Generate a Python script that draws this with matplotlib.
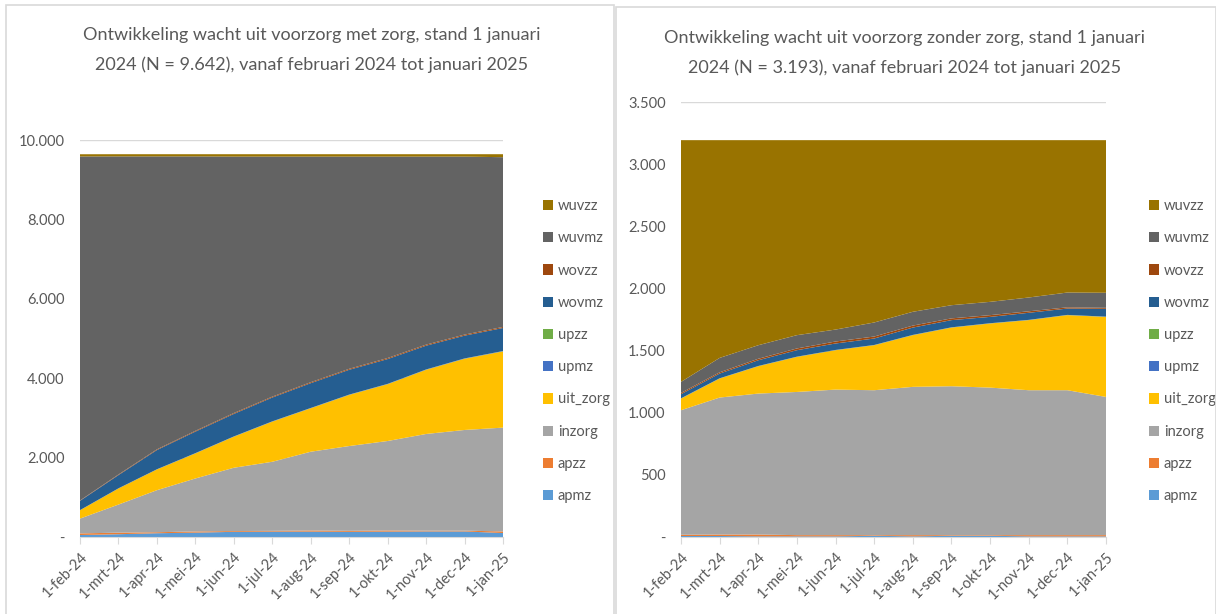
import matplotlib
matplotlib.use("Agg")
import matplotlib.pyplot as plt
from matplotlib.ticker import FuncFormatter
from matplotlib.patches import Rectangle

plt.rcParams['font.family'] = ['Lato', 'DejaVu Sans']

months = ['1-feb-24', '1-mrt-24', '1-apr-24', '1-mei-24', '1-jun-24', '1-jul-24',
          '1-aug-24', '1-sep-24', '1-okt-24', '1-nov-24', '1-dec-24', '1-jan-25']
series_names = ['apmz', 'apzz', 'inzorg', 'uit_zorg', 'upmz', 'upzz',
                'wovmz', 'wovzz', 'wuvmz', 'wuvzz']
colors = ['#5B9BD5', '#ED7D31', '#A5A5A5', '#FFC000', '#4472C4', '#70AD47',
          '#255E91', '#9E480E', '#636363', '#997300']

# wacht uit voorzorg met zorg (N = 9.642)
met_apmz = [50, 70, 95, 110, 130, 135, 135, 130, 135, 140, 140, 100]
met_apzz = [40, 40, 25, 30, 20, 20, 30, 25, 30, 20, 20, 40]
met_inzorg = [373, 707, 1059, 1334, 1594, 1740, 1983, 2136, 2253, 2435, 2536, 2615]
met_uit_zorg = [211, 405, 523, 632, 783, 1011, 1095, 1289, 1432, 1617, 1794, 1921]
met_upmz = [2, 3, 3, 4, 4, 5, 5, 5, 5, 6, 6, 6]
met_upzz = [1, 1, 1, 2, 2, 2, 2, 2, 2, 2, 2, 2]
met_wovmz = [233, 333, 484, 542, 567, 600, 625, 625, 625, 599, 574, 581]
met_wovzz = [10, 15, 18, 20, 22, 22, 24, 24, 26, 26, 26, 26]
met_wuvmz = [8666, 8013, 7379, 6913, 6460, 6047, 5683, 5346, 5074, 4737, 4484, 4276]
met_wuvzz = [55, 55, 55, 55, 60, 60, 60, 60, 60, 60, 60, 75]

# wacht uit voorzorg zonder zorg (N = 3.193)
zonder_apmz = [8, 8, 5, 5, 5, 10, 5, 10, 10, 5, 5, 5]
zonder_apzz = [10, 12, 15, 10, 10, 5, 10, 5, 5, 10, 10, 10]
zonder_inzorg = [1002, 1102, 1134, 1152, 1171, 1166, 1193, 1198, 1187, 1166, 1166, 1112]
zonder_uit_zorg = [94, 153, 220, 282, 317, 362, 416, 472, 516, 564, 604, 644]
zonder_upmz = [1, 1, 1, 1, 1, 1, 1, 1, 1, 1, 1, 1]
zonder_upzz = [1, 1, 1, 1, 1, 1, 1, 1, 1, 1, 1, 1]
zonder_wovmz = [33, 38, 46, 52, 52, 52, 59, 58, 51, 57, 51, 63]
zonder_wovzz = [10, 10, 12, 14, 16, 16, 16, 14, 14, 12, 10, 8]
zonder_wuvmz = [89, 116, 109, 107, 96, 113, 111, 106, 107, 111, 119, 121]
zonder_wuvzz = [1945, 1752, 1650, 1569, 1524, 1467, 1381, 1328, 1301, 1266, 1226, 1228]

met = [met_apmz, met_apzz, met_inzorg, met_uit_zorg, met_upmz, met_upzz,
       met_wovmz, met_wovzz, met_wuvmz, met_wuvzz]
zonder = [zonder_apmz, zonder_apzz, zonder_inzorg, zonder_uit_zorg, zonder_upmz,
          zonder_upzz, zonder_wovmz, zonder_wovzz, zonder_wuvmz, zonder_wuvzz]

text_color = '#595959'
grid_color = '#D9D9D9'


def fmt(v, pos):
    if v == 0:
        return '-'
    return f'{int(v):,}'.replace(',', '.')


fig = plt.figure(figsize=(12.16, 6.14), dpi=100)

# panel borders
fig.patches.append(Rectangle((6 / 1216, -0.01), 608 / 1216, 1 - 5 / 614 + 0.01,
                             transform=fig.transFigure, fill=False,
                             edgecolor=grid_color, linewidth=1.2))
fig.patches.append(Rectangle((616 / 1216, -0.01), 600 / 1216, 1 - 7 / 614 + 0.01,
                             transform=fig.transFigure, fill=False,
                             edgecolor=grid_color, linewidth=1.2))


def draw(rect, data, ymax, ystep, title, title_x, title_y, leg_x):
    ax = fig.add_axes(rect)
    x = list(range(len(months)))
    ax.stackplot(x, data, colors=colors, labels=series_names, linewidth=0)
    ax.set_xlim(0, len(months) - 1)
    ax.set_ylim(0, ymax)
    ax.set_yticks(list(range(0, ymax + 1, ystep)))
    ax.yaxis.set_major_formatter(FuncFormatter(fmt))
    ax.set_xticks(x)
    ax.set_xticklabels(months, rotation=45, ha='right', va='top',
                       rotation_mode='anchor')
    ax.grid(axis='y', color=grid_color, linewidth=1)
    ax.set_axisbelow(True)
    for s in ['top', 'right', 'left']:
        ax.spines[s].set_visible(False)
    ax.spines['bottom'].set_color(grid_color)
    ax.tick_params(axis='y', length=0, colors=text_color, labelsize=10.5, pad=11)
    ax.tick_params(axis='x', length=5, color=grid_color, labelsize=10.5, pad=4)
    for lab in ax.get_xticklabels():
        lab.set_color(text_color)
    fig.text(title_x / 1216, 1 - title_y / 614, title, ha='center', va='center',
             fontsize=13, color=text_color, linespacing=1.95)
    h, l = ax.get_legend_handles_labels()
    ax.legend(h[::-1], l[::-1], loc='upper left',
              bbox_to_anchor=(leg_x / 1216, 1 - 186 / 614),
              bbox_transform=fig.transFigure, frameon=False, fontsize=10.5,
              handlelength=0.7, handleheight=0.7, handletextpad=0.3,
              labelspacing=1.25, labelcolor=text_color)
    return ax


draw([80 / 1216, 1 - 537 / 614, 423 / 1216, 397 / 614], met, 10000, 2000,
     'Ontwikkeling wacht uit voorzorg met zorg, stand 1 januari\n'
     '2024 (N = 9.642), vanaf februari 2024 tot januari 2025',
     312, 50, 530)
draw([681 / 1216, 1 - 537 / 614, 425 / 1216, 435 / 614], zonder, 3500, 500,
     'Ontwikkeling wacht uit voorzorg zonder zorg, stand 1 januari\n'
     '2024 (N = 3.193), vanaf februari 2024 tot januari 2025',
     905, 53, 1136)

fig.savefig('out.png', dpi=100)
